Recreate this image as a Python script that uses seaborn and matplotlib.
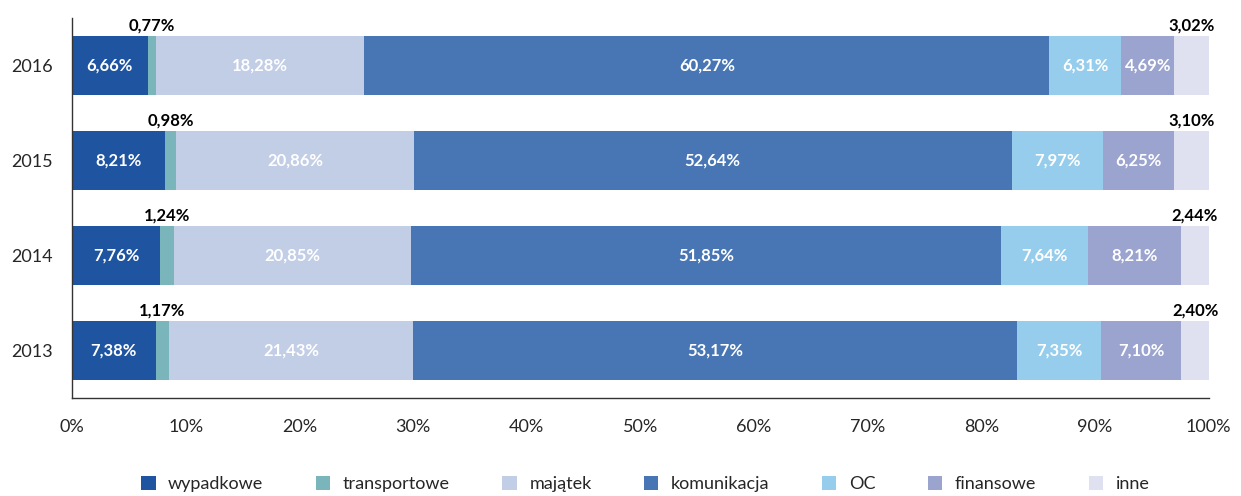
import numpy as np
import pandas as pd
import seaborn as sns
import matplotlib.pyplot as plt
from matplotlib.patches import Patch

years = ["2016", "2015", "2014", "2013"]
categories = ["wypadkowe", "transportowe", "majątek", "komunikacja", "OC", "finansowe", "inne"]
wypadkowe = [6.66, 8.21, 7.76, 7.38]
transportowe = [0.77, 0.98, 1.24, 1.17]
majatek = [18.28, 20.86, 20.85, 21.43]
komunikacja = [60.27, 52.64, 51.85, 53.17]
oc = [6.31, 7.97, 7.64, 7.35]
finansowe = [4.69, 6.25, 8.21, 7.10]
inne = [3.02, 3.10, 2.44, 2.40]
colors = ["#1f54a0", "#7ab5bc", "#c2cde6", "#4876b4", "#97cdec", "#9ba3cf", "#dfe1f1"]

series = [wypadkowe, transportowe, majatek, komunikacja, oc, finansowe, inne]
df = pd.DataFrame(dict(zip(categories, series)), index=years)
cum = df.cumsum(axis=1)

sns.set_style("white")
plt.rcParams['font.family'] = ['Lato', 'DejaVu Sans']

fig, ax = plt.subplots(figsize=(12.41, 4.96), dpi=100)
fig.subplots_adjust(left=0.058, right=0.974, top=0.964, bottom=0.198)

# stacked bars: draw cumulative totals from the widest down
for cat, col in reversed(list(zip(categories, colors))):
    plot_df = pd.DataFrame({"year": years, "value": cum[cat].values})
    sns.barplot(data=plot_df, x="value", y="year", order=years, color=col,
                width=0.62, saturation=1, ax=ax, edgecolor="none")

def fmt(v):
    return f"{v:.2f}%".replace(".", ",")

for i, yr in enumerate(years):
    left = 0
    for cat in categories:
        v = df.loc[yr, cat]
        center = left + v / 2
        if cat in ("transportowe", "inne"):
            ax.text(center, i - 0.31 - 0.02, fmt(v), ha="center", va="bottom",
                    fontsize=12, fontweight="bold", color="black")
        else:
            ax.text(center, i, fmt(v), ha="center", va="center",
                    fontsize=12, fontweight="bold", color="white")
        left += v

ax.set_xlim(0, 100)
ax.set_ylim(3.5, -0.5)
ax.set_xticks(np.arange(0, 101, 10))
ax.set_xticklabels([f"{t}%" for t in range(0, 101, 10)], fontsize=13)
ax.set_xlabel("")
ax.set_ylabel("")
ax.tick_params(axis="y", which="major", length=0, labelsize=13, pad=14)
ax.set_yticks([-0.5, 0.5, 1.5, 2.5, 3.5], minor=True)
ax.tick_params(axis="y", which="minor", length=7, width=1, direction="out")
ax.tick_params(axis="x", length=7, width=1, direction="out", pad=8)
sns.despine(ax=ax, top=True, right=True)
for s in ("left", "bottom"):
    ax.spines[s].set_color("#333333")
    ax.spines[s].set_linewidth(1)

handles = [Patch(facecolor=c, edgecolor="none") for c in colors]
fig.legend(handles, categories, loc="lower center", ncol=7, frameon=False,
           fontsize=13, bbox_to_anchor=(0.52, -0.025), handlelength=0.8,
           handleheight=0.8, columnspacing=2.9, handletextpad=0.7)

fig.savefig("out.png", dpi=100)
